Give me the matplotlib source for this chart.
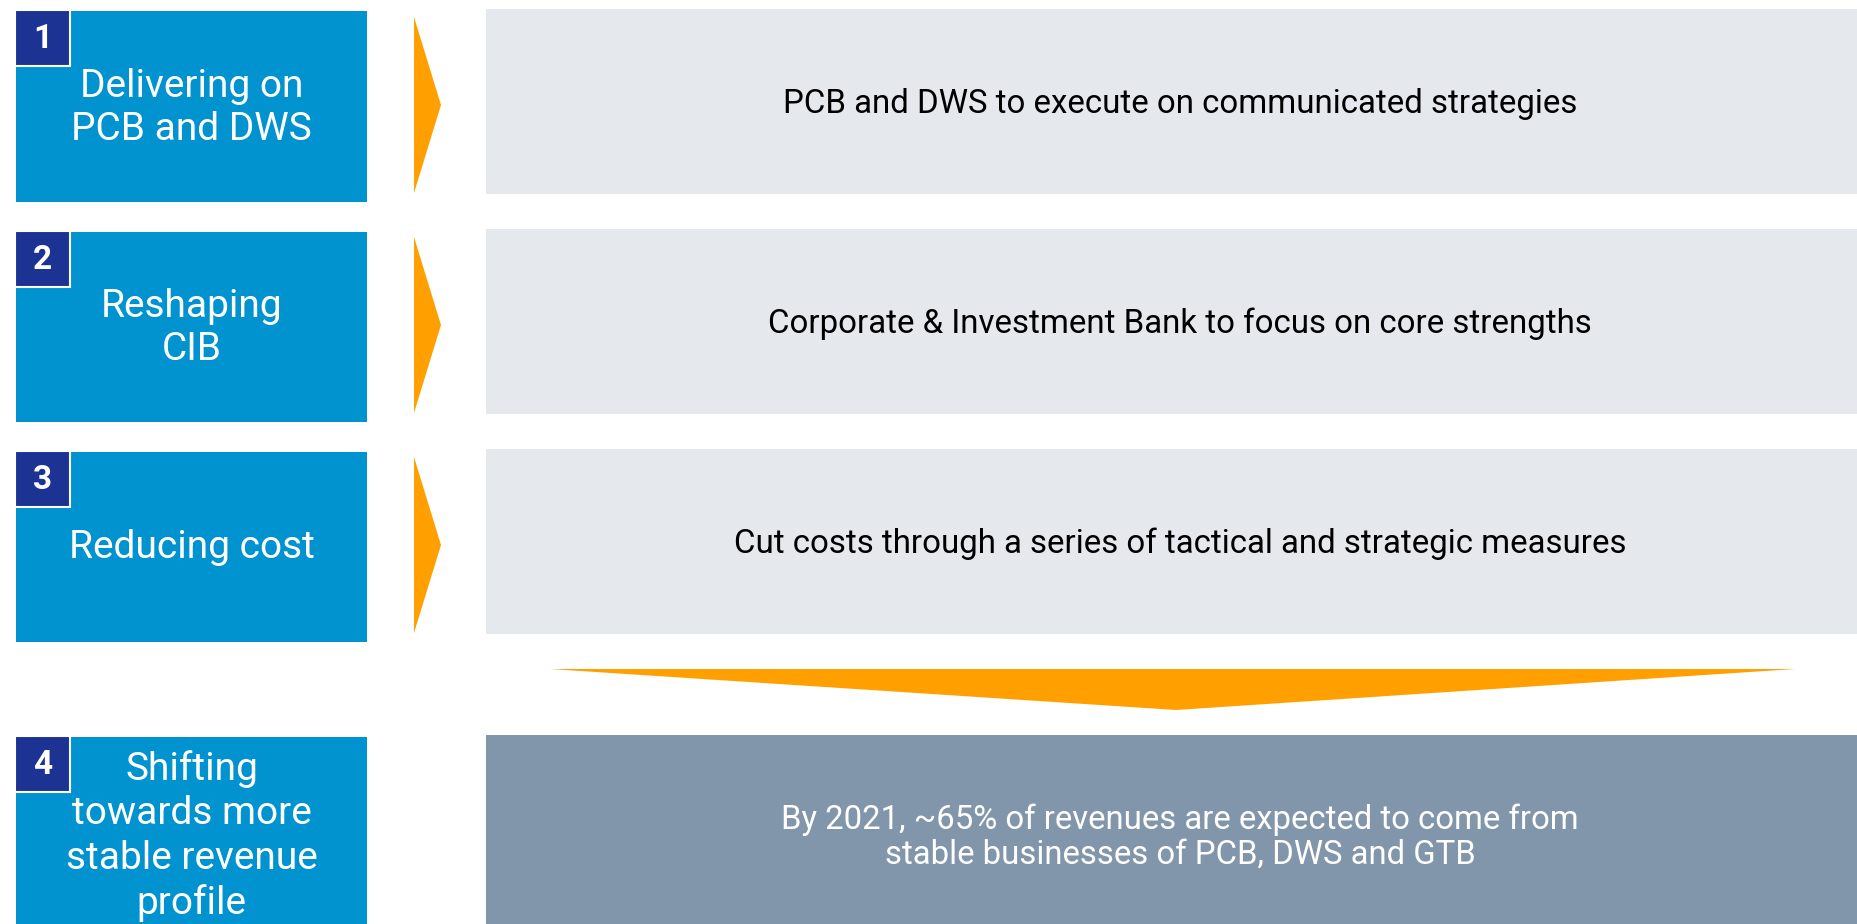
import matplotlib.pyplot as plt
from matplotlib.patches import Rectangle, Polygon

# content
numbers = ['1', '2', '3', '4']
pillars = ['Delivering on\nPCB and DWS',
           'Reshaping\nCIB',
           'Reducing cost',
           'Shifting\ntowards more\nstable revenue\nprofile']
actions = ['PCB and DWS to execute on communicated strategies',
           'Corporate & Investment Bank to focus on core strengths',
           'Cut costs through a series of tactical and strategic measures']
outcome = 'By 2021, ~65% of revenues are expected to come from\nstable businesses of PCB, DWS and GTB'

# layout (pixels, y down)
W, H = 1858, 924
box_x0, box_x1 = 16, 367
box_y = [(11, 202), (232, 422), (452, 642), (737, 924)]
box_text_y = [108, 328, 547, 836]
box_spacing = [1.2, 1.2, 1.2, 1.25]
grey_x0 = 486
grey_y = [(9, 194), (229, 414), (449, 634)]
arrow_y = [(17, 193), (237, 413), (457, 633)]
arrow_x0, arrow_x1 = 414, 441
out_y = (735, 924)
down = (550, 1795, 669, 1176, 710)  # left, right, top, tip x, tip y

BLUE = '#0093d0'
NAVY = '#1c3394'
ORANGE = '#ffa000'
LIGHT = '#e5e8ed'
SLATE = '#8196aa'

plt.rcParams['font.family'] = ['Roboto', 'DejaVu Sans']

fig = plt.figure(figsize=(W / 100, H / 100), dpi=100)
ax = fig.add_axes([0, 0, 1, 1])
ax.set_xlim(0, W)
ax.set_ylim(H, 0)
ax.axis('off')

for i, (y0, y1) in enumerate(box_y):
    ax.add_patch(Rectangle((box_x0, y0), box_x1 - box_x0, y1 - y0, color=BLUE, lw=0))
    ax.add_patch(Rectangle((box_x0 - 1, y0 - 1), 55, 56, facecolor=NAVY,
                           edgecolor='white', lw=1.5))
    ax.text(box_x0 + 26.5, y0 + 28, numbers[i], color='white', fontsize=24,
            fontweight='bold', ha='center', va='center')
    ax.text((box_x0 + box_x1) / 2, box_text_y[i], pillars[i], color='white',
            fontsize=28, ha='center', va='center', linespacing=box_spacing[i])

for i, (y0, y1) in enumerate(grey_y):
    ax.add_patch(Rectangle((grey_x0, y0), W - grey_x0, y1 - y0, color=LIGHT, lw=0))
    ax.text((grey_x0 + W) / 2 + 8, (y0 + y1) / 2 + 2, actions[i], color='black',
            fontsize=23.8, ha='center', va='center')
    a0, a1 = arrow_y[i]
    ax.add_patch(Polygon([(arrow_x0, a0), (arrow_x1, (a0 + a1) / 2), (arrow_x0, a1)],
                         closed=True, color=ORANGE, lw=0))

l, r, t, tx, ty = down
ax.add_patch(Polygon([(l, t), (r, t), (tx, ty)], closed=True, color=ORANGE, lw=0))

ax.add_patch(Rectangle((grey_x0, out_y[0]), W - grey_x0, out_y[1] - out_y[0], color=SLATE, lw=0))
ax.text(1180, 837, outcome, color='white', fontsize=23.7, ha='center', va='center',
        linespacing=1.1)

fig.savefig('out.png', dpi=100, facecolor='white')
